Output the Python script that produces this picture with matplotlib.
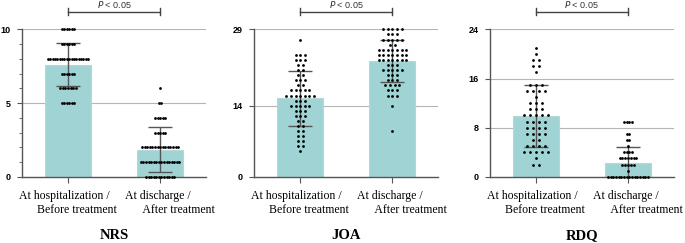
import numpy as np
import matplotlib
matplotlib.use("Agg")
import matplotlib.pyplot as plt
import matplotlib.transforms as mtransforms

# groups on the x axis
groups = ["At hospitalization /\n      Before treatment", "At discharge /\n      After treatment"]

# score value -> number of patients
nrs_before = {10: 6, 9: 6, 8: 18, 7: 6, 6: 7, 5: 6}
nrs_after = {6: 1, 5: 2, 4: 5, 3: 5, 2: 15, 1: 16, 0: 12}
joa_before = {27: 1, 24: 3, 23: 3, 22: 2, 21: 2, 20: 2, 19: 3, 18: 2, 17: 5, 16: 7,
              15: 3, 14: 5, 13: 3, 12: 3, 11: 2, 10: 2, 9: 2, 8: 2, 7: 2, 6: 2, 5: 1}
joa_after = {29: 5, 28: 3, 27: 5, 26: 2, 25: 7, 24: 7, 23: 7, 22: 3, 21: 5, 20: 3,
             19: 3, 18: 4, 17: 3, 16: 3, 14: 1, 9: 1}
rdq_before = {21: 1, 20: 1, 19: 2, 18: 2, 17: 1, 15: 3, 14: 4, 13: 1, 12: 3, 11: 3,
              10: 5, 9: 4, 8: 4, 7: 4, 6: 2, 5: 4, 4: 5, 3: 1, 2: 2}
rdq_after = {9: 4, 7: 2, 6: 2, 5: 1, 4: 4, 3: 7, 2: 5, 1: 1, 0: 16}

# bar heights (mean) and error bars (SD)
nrs_mean = [7.6, 1.85]
nrs_sd = [1.45, 1.5]
joa_mean = [15.5, 22.8]
joa_sd = [5.4, 4.2]
rdq_mean = [9.9, 2.2]
rdq_sd = [5.1, 2.7]

titles = ["NRS", "JOA", "RDQ"]
yticks = [[0, 5, 10], [0, 14, 29], [0, 8, 16, 24]]

panels = [
    (nrs_before, nrs_after, nrs_mean, nrs_sd, [0.028, 0.028]),
    (joa_before, joa_after, joa_mean, joa_sd, [0.05, 0.05]),
    (rdq_before, rdq_after, rdq_mean, rdq_sd, [0.066, 0.03]),
]

bar_color = "#a0d4d4"
lefts = [0.032, 0.371, 0.715]

fig = plt.figure(figsize=(6.85, 2.43), dpi=100)

for i, (before, after, mean, sd, step) in enumerate(panels):
    ax = fig.add_axes([lefts[i], 0.272, 0.269, 0.607])
    top = yticks[i][-1]
    ax.set_xlim(-0.5, 1.5)
    ax.set_ylim(0, top)

    for t in yticks[i][1:]:
        ax.axhline(t, color="#b5b5b5", lw=0.8, zorder=0)

    ax.bar([0, 1], mean, width=0.5, color=bar_color, edgecolor="#b8d6d6",
           linewidth=0.8, zorder=1)
    ax.errorbar([0, 1], mean, yerr=sd, fmt="none", ecolor="#555555",
                elinewidth=1.0, capsize=8.5, capthick=1.0, zorder=2)

    # dots laid out in rows, centred on the group
    for g, counts in enumerate([before, after]):
        xs, ys = [], []
        for v, n in counts.items():
            sp = min(step[g], 0.46 / max(n, 1))
            offs = (np.arange(n) - (n - 1) / 2) * sp
            xs.extend(g + offs)
            ys.extend([v] * n)
        ax.scatter(xs, ys, s=4, color="black", zorder=3, clip_on=False,
                   linewidths=0)

    ax.spines["top"].set_visible(False)
    ax.spines["right"].set_visible(False)
    ax.spines["left"].set_color("#555555")
    ax.spines["bottom"].set_color("#555555")
    ax.spines["left"].set_linewidth(1.0)
    ax.spines["bottom"].set_linewidth(1.0)

    ax.set_yticks(yticks[i])
    if i == 0:
        ax.set_yticks(range(0, 11), minor=True)
        ax.tick_params(axis="y", which="minor", length=2, color="#555555")
    ax.tick_params(axis="y", length=3.5, color="#555555", pad=4.5)
    for lab in ax.get_yticklabels():
        lab.set_fontfamily("Liberation Sans")
        lab.set_fontweight("bold")
        lab.set_fontsize(6.5)

    ax.set_xticks([0, 1])
    ax.set_xticklabels(groups, fontfamily="Liberation Serif", fontsize=8.5,
                       multialignment="left", linespacing=1.2)
    ax.tick_params(axis="x", length=4, color="#555555", pad=5.5)
    lab2 = ax.get_xticklabels()[1]
    lab2.set_transform(lab2.get_transform() +
                       mtransforms.ScaledTranslation(10 / 100, 0, fig.dpi_scale_trans))

    ax.text(0.5, -0.395, titles[i], transform=ax.transAxes, ha="center",
            va="center", fontfamily="Liberation Serif", fontweight="bold",
            fontsize=10.5)

    # significance bracket
    yb = 1.12
    ax.plot([0, 1], [yb, yb], transform=ax.get_xaxis_transform(),
            color="#444444", lw=1.0, clip_on=False)
    for xe in [0, 1]:
        ax.plot([xe, xe], [yb - 0.025, yb + 0.025],
                transform=ax.get_xaxis_transform(), color="#444444", lw=1.0,
                clip_on=False)
    ax.text(0.5, yb + 0.022, "$\\it{P}$ < 0.05", transform=ax.get_xaxis_transform(),
            ha="center", va="baseline", fontsize=6.5, color="#333333",
            fontfamily="Liberation Sans")

fig.savefig("out.png", dpi=100)
